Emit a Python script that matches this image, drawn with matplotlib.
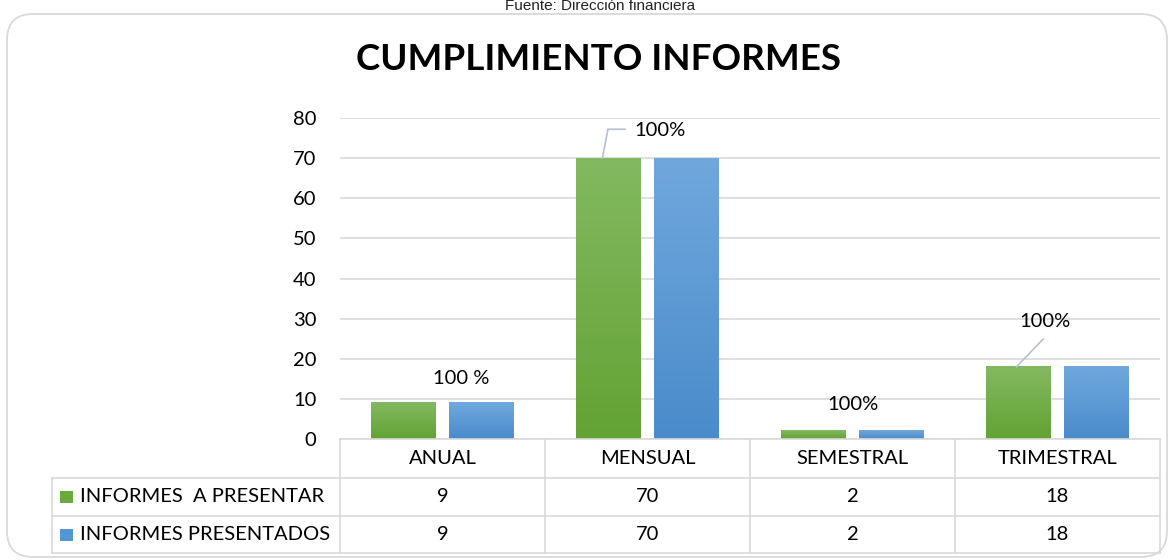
import numpy as np
import matplotlib
matplotlib.use("Agg")
import matplotlib.pyplot as plt
from matplotlib.patches import FancyBboxPatch, Rectangle
from matplotlib.colors import LinearSegmentedColormap
from matplotlib.transforms import IdentityTransform

categories = ["ANUAL", "MENSUAL", "SEMESTRAL", "TRIMESTRAL"]
series_names = ["INFORMES  A PRESENTAR", "INFORMES PRESENTADOS"]
a_presentar = [9, 70, 2, 18]
presentados = [9, 70, 2, 18]
pct_labels = ["100 %", "100%", "100%", "100%"]
pct_label_y = [15.2, 76.8, 8.7, 29.2]
yticks = [0, 10, 20, 30, 40, 50, 60, 70, 80]

FONT = "Lato"
FS = 14.5
W, H = 1172, 560
fig = plt.figure(figsize=(W / 100, H / 100), dpi=100)
fig.patch.set_facecolor("white")

# outer rounded border (pixel coords, origin bottom-left)
box = FancyBboxPatch((7, 3), 1160, 543,
                     boxstyle="round,pad=0,rounding_size=26",
                     transform=IdentityTransform(), facecolor="none",
                     edgecolor="#D9D9D9", linewidth=1.3, zorder=-1)
fig.patches.append(box)

fig.text(600 / W, 1 - 6 / H, "Fuente: Dirección financiera", ha="center", va="center",
         fontsize=11, family="Liberation Sans", color="#222222")
fig.text(598 / W, 1 - 60 / H, "CUMPLIMIENTO INFORMES", ha="center", va="center",
         fontsize=26.5, fontweight="bold", family=FONT, color="black")

ax = fig.add_axes([340 / W, 1 - 439 / H, 820 / W, 321 / H])
ax.patch.set_alpha(0)
ax.set_xlim(-0.5, len(categories) - 0.5)
ax.set_ylim(0, 80)
for s in ax.spines.values():
    s.set_visible(False)
ax.set_yticks(yticks)
ax.set_yticklabels([str(t) for t in yticks], fontsize=FS, family=FONT)
ax.tick_params(axis="y", length=0, pad=17)
ax.set_xticks([])
ax.grid(axis="y", color="#D9D9D9", linewidth=1.2)
ax.set_axisbelow(True)

x = np.arange(len(categories))
bw = 0.317
off = 0.19
g_bars = ax.bar(x - off, a_presentar, bw, color="none")
b_bars = ax.bar(x + off, presentados, bw, color="none")

green_cmap = LinearSegmentedColormap.from_list("g", ["#63A234", "#83B961"])
blue_cmap = LinearSegmentedColormap.from_list("b", ["#4A8BCB", "#70A8DD"])
grad = np.linspace(0, 1, 256).reshape(-1, 1)
for bars, cmap in ((g_bars, green_cmap), (b_bars, blue_cmap)):
    for p in bars:
        x0, y0 = p.get_x(), p.get_y()
        w, h = p.get_width(), p.get_height()
        ax.imshow(grad, cmap=cmap, origin="lower", aspect="auto",
                  extent=(x0, x0 + w, y0, y0 + h), zorder=2)
ax.set_xlim(-0.5, len(categories) - 0.5)
ax.set_ylim(0, 80)

# percentage labels
lab_x = [0.09, 0.06, 0.0, -0.06]
for i, (t, ly) in enumerate(zip(pct_labels, pct_label_y)):
    ax.text(i + lab_x[i], ly, t, ha="center", va="center", fontsize=FS,
            family=FONT, color="black", zorder=4)
# leader lines
lc = "#B4C0D0"
gx = x - off
ax.plot([gx[1] - 0.03, gx[1] - 0.003, gx[1] + 0.08],
        [a_presentar[1], 77.2, 77.2], color=lc, lw=1.2, zorder=3, clip_on=False)
ax.plot([gx[3] - 0.01, gx[3] + 0.12], [a_presentar[3], 24.9], color=lc, lw=1.2, zorder=3)

# data table
tr = ax.get_xaxis_transform()
tc = "#D9D9D9"
px_per_unit = 820 / len(categories)
left = -0.5 - (340 - 52) / px_per_unit
rows_y = [0, -(478 - 439) / 321, -(516 - 439) / 321, -(553 - 439) / 321]
right = len(categories) - 0.5
ax.plot([-0.5, right], [rows_y[0]] * 2, transform=tr, color=tc, lw=1.2, clip_on=False)
for ry in rows_y[1:]:
    ax.plot([left, right], [ry] * 2, transform=tr, color=tc, lw=1.2, clip_on=False)
for b in np.arange(-0.5, right + 0.01, 1.0):
    ax.plot([b, b], [rows_y[0], rows_y[3]], transform=tr, color=tc, lw=1.2, clip_on=False)
ax.plot([left, left], [rows_y[1], rows_y[3]], transform=tr, color=tc, lw=1.2, clip_on=False)

for i, c in enumerate(categories):
    ax.text(i, (rows_y[0] + rows_y[1]) / 2, c, transform=tr, ha="center", va="center",
            fontsize=FS, family=FONT)
colors_key = ["#6AAA3C", "#5496D4"]
for r, (name, vals) in enumerate(zip(series_names, [a_presentar, presentados])):
    yc = (rows_y[r + 1] + rows_y[r + 2]) / 2
    for i, v in enumerate(vals):
        ax.text(i, yc, str(v), transform=tr, ha="center", va="center", fontsize=FS, family=FONT)
    kx = left + 8 / px_per_unit
    ax.add_patch(Rectangle((kx, yc - 6 / 321), 13 / px_per_unit, 12 / 321, transform=tr,
                           facecolor=colors_key[r], edgecolor="none", clip_on=False))
    ax.text(left + 28 / px_per_unit, yc, name, transform=tr, ha="left", va="center",
            fontsize=FS, family=FONT)

fig.savefig("out.png", dpi=100)
